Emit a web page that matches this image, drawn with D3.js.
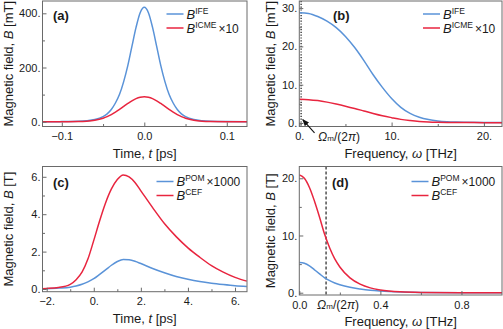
<!DOCTYPE html>
<html><head><meta charset="utf-8">
<script src="https://cdn.jsdelivr.net/npm/d3@7"></script>
<style>
body{margin:0;background:#fff;}
svg{display:block;font-family:"Liberation Sans",Arial,Helvetica,sans-serif;}
</style></head><body>
<svg id="chart" width="503" height="329"></svg>
<script>
// ---------- data ----------
// (a) time domain, t in ps, B in mT
const tA     = [-0.125,-0.1,-0.08,-0.07,-0.06,-0.05,-0.045,-0.04,-0.035,-0.03,-0.025,-0.02,-0.015,-0.01,-0.005,0,0.005,0.01,0.015,0.02,0.025,0.03,0.035,0.04,0.045,0.05,0.06,0.07,0.08,0.1,0.125];
const ifeA   = [0.1,0.3,1.3,3.2,7.9,19,29,45,69,101,148,207,278,348,402,422,402,348,278,207,148,101,69,45,29,19,7.9,3.2,1.3,0.3,0.1];
const icmeA  = [0,0.02,0.6,2.0,5.5,13,18.9,26.4,35.3,45.5,56.5,67.3,77.2,85.1,90.2,92,90.2,85.1,77.2,67.3,56.5,45.5,35.3,26.4,18.9,13,5.5,2.0,0.6,0.02,0];
// (b) frequency domain, omega in THz, B in mT
const wB     = [0,1,2,3,4,5,6,7,8,9,10,11,12,13,14,15,16,17,18,20,22];
const ifeB   = [28.8,28.6,27.8,26.6,24.9,22.6,19.7,16.3,12.6,9.3,6.4,4.1,2.5,1.5,0.9,0.55,0.35,0.25,0.2,0.15,0.12];
const icmeB  = [6.2,6.1,5.85,5.45,4.95,4.4,3.8,3.15,2.5,1.9,1.4,0.95,0.65,0.42,0.28,0.2,0.15,0.13,0.12,0.1,0.1];
// (c) time domain, t in ps, B in T
const tC     = [-2.2,-2,-1.5,-1,-0.75,-0.5,-0.25,0,0.25,0.5,0.75,1,1.25,1.5,1.75,2,2.5,3,3.5,4,4.5,5,5.5,6,6.5];
const pomC   = [0.02,0.02,0.05,0.1,0.16,0.25,0.38,0.55,0.78,1.02,1.27,1.47,1.58,1.56,1.48,1.36,1.1,0.87,0.67,0.52,0.4,0.31,0.24,0.18,0.14];
const cefC   = [0.02,0.03,0.08,0.25,0.5,0.9,1.6,2.6,3.65,4.6,5.35,5.85,6.1,6.0,5.7,5.25,4.35,3.5,2.8,2.2,1.7,1.25,0.9,0.62,0.42];
// (d) frequency domain, omega in THz, B in T
const wD     = [0,0.025,0.05,0.075,0.1,0.125,0.15,0.175,0.2,0.25,0.3,0.35,0.4,0.5,0.6,0.8,1.0];
const pomD   = [5.3,5.15,4.7,4.0,3.3,2.6,2.1,1.7,1.4,0.95,0.65,0.42,0.28,0.12,0.05,0.01,0];
const cefD   = [20.6,20.0,18.4,16.0,13.2,10.2,7.8,5.9,4.5,2.6,1.5,0.85,0.48,0.15,0.05,0.01,0];
// marker frequency Omega_m/(2 pi) in THz
const omegaM = 0.132;

// tick values and labels
const xTicksA = [-0.1,0,0.1],   xLabelsA = ["\u22120.1","0.0","0.1"], xMinorA = [-0.05,0.05];
const yTicksA = [0,200,400],    yLabelsA = ["0.","200.","400."],       yMinorA = [100,300];
const xTicksB = [0,10,20],      xLabelsB = ["0.","10.","20."],         xMinorB = [5,15];
const yTicksB = [0,10,20,30],   yLabelsB = ["0.","10.","20.","30."],   yMinorB = [5,15,25];
const xTicksC = [-2,0,2,4,6],   xLabelsC = ["\u22122.","0.","2.","4.","6."], xMinorC = [-1,1,3,5];
const yTicksC = [0,2,4,6],      yLabelsC = ["0.","2.","4.","6."],      yMinorC = [1,3,5];
const xTicksD = [0,0.4,0.8],    xLabelsD = ["0.0","0.4","0.8"],        xMinorD = [0.2,0.6];
const yTicksD = [0,10,20],      yLabelsD = ["0.","10.","20."],         yMinorD = [5,15];

const panelLetters = ["(a)","(b)","(c)","(d)"];
const xTitles = ["Time, ", "Frequency, ", "Time, ", "Frequency, "];
const xSyms   = ["t","\u03C9","t","\u03C9"];
const xUnits  = [" [ps]"," [THz]"," [ps]"," [THz]"];
const yUnits  = [" [mT]"," [mT]"," [T]"," [T]"];
const legSupTop = ["IFE","IFE","POM","POM"];
const legSufTop = [""," ","\u00D71000","\u00D71000"];
const legSupBot = ["ICME","ICME","CEF","CEF"];
const legSufBot = ["\u00D710","\u00D710","",""];

// ---------- styles ----------
const BLUE = "#5a93d8", RED = "#e8253f", FRAME = "#6a6a6a", TXT = "#1a1a1a";

const panels = [
  {x:[42.5,247], y:[126.5,1], xd:[-0.1234,0.1245], yd:[-17.7,445.4],
   xs:tA, s1:ifeA, s2:icmeA, c1:BLUE, c2:RED,
   xt:xTicksA, xl:xLabelsA, xm:xMinorA, yt:yTicksA, yl:yLabelsA, ym:yMinorA,
   letter:[53,19.5], leg:[166.5,14], ytx:13, marker:null},
  {x:[299.3,502], y:[126.5,1], xd:[0,21.96], yd:[-0.91,31.85],
   xs:wB, s1:ifeB, s2:icmeB, c1:BLUE, c2:RED,
   xt:xTicksB, xl:xLabelsB, xm:xMinorB, yt:yTicksB, yl:yLabelsB, ym:yMinorB,
   letter:[333,19.5], leg:[423,14], ytx:274.5, marker:"dot"},
  {x:[42.5,247], y:[291.7,166.5], xd:[-2.178,6.509], yd:[-0.144,6.55],
   xs:tC, s1:pomC, s2:cefC, c1:BLUE, c2:RED,
   xt:xTicksC, xl:xLabelsC, xm:xMinorC, yt:yTicksC, yl:yLabelsC, ym:yMinorC,
   letter:[53,187], leg:[156.5,181.5], ytx:13, marker:null},
  {x:[299.3,502], y:[295,166.5], xd:[0,1], yd:[-0.40,22.06],
   xs:wD, s1:pomD, s2:cefD, c1:BLUE, c2:RED,
   xt:xTicksD, xl:xLabelsD, xm:xMinorD, yt:yTicksD, yl:yLabelsD, ym:yMinorD,
   letter:[332,187], leg:[411.5,181.5], ytx:274.5, marker:"dash"}
];

const svg = d3.select("#chart");
const defs = svg.append("defs");
defs.append("marker").attr("id","arrow").attr("viewBox","0 0 10 10")
  .attr("refX",9).attr("refY",5).attr("markerWidth",7).attr("markerHeight",7)
  .attr("markerUnits","userSpaceOnUse").attr("orient","auto")
  .append("path").attr("d","M0,1 L10,5 L0,9 Z").attr("fill","#111");

panels.forEach((p,i)=>{
  const x = d3.scaleLinear().domain(p.xd).range(p.x);
  const y = d3.scaleLinear().domain(p.yd).range(p.y);
  const g = svg.append("g");
  const cid = "clip"+i;
  defs.append("clipPath").attr("id",cid).append("rect")
    .attr("x",p.x[0]).attr("y",p.y[1]).attr("width",p.x[1]-p.x[0]).attr("height",p.y[0]-p.y[1]);

  // marker line
  if(p.marker){
    g.append("line").attr("x1",x(omegaM)+(p.marker==="dot"?0.6:0)).attr("x2",x(omegaM)+(p.marker==="dot"?0.6:0))
      .attr("y1",p.y[1]).attr("y2",p.y[0])
      .attr("stroke","#111").attr("stroke-width",p.marker==="dot"?1.2:1.1)
      .attr("stroke-dasharray",p.marker==="dot"?"1.2,1.6":"3,2");
  }

  // curves
  const line = d3.line().x(d=>x(d[0])).y(d=>y(d[1])).curve(d3.curveMonotoneX);
  const cg = g.append("g").attr("clip-path",`url(#${cid})`);
  cg.append("path").datum(p.xs.map((v,k)=>[v,p.s1[k]])).attr("d",line)
    .attr("fill","none").attr("stroke",p.c1).attr("stroke-width",1.5);
  cg.append("path").datum(p.xs.map((v,k)=>[v,p.s2[k]])).attr("d",line)
    .attr("fill","none").attr("stroke",p.c2).attr("stroke-width",1.5);

  // frame
  g.append("rect").attr("x",p.x[0]).attr("y",p.y[1]).attr("width",p.x[1]-p.x[0]).attr("height",p.y[0]-p.y[1])
    .attr("fill","none").attr("stroke",FRAME).attr("stroke-width",1);

  // axes
  const xAx = d3.axisBottom(x).tickValues(p.xt).tickFormat((d,k)=>p.xl[k]).tickSize(-4).tickPadding(6);
  const xAxM = d3.axisBottom(x).tickValues(p.xm).tickFormat("").tickSize(-2.5);
  const yAx = d3.axisLeft(y).tickValues(p.yt).tickFormat((d,k)=>p.yl[k]).tickSize(-4).tickPadding(2);
  const yAxM = d3.axisLeft(y).tickValues(p.ym).tickFormat("").tickSize(-2.5);
  [[xAx,"b"],[xAxM,"b"],[yAx,"l"],[yAxM,"l"]].forEach(([ax,s])=>{
    const a = g.append("g").attr("transform", s==="b" ? `translate(0,${p.y[0]})` : `translate(${p.x[0]},0)`).call(ax);
    a.select(".domain").remove();
    a.selectAll("line").attr("stroke",FRAME);
    a.selectAll("text").attr("fill",TXT).style("font-size","11px").style("font-family","'Liberation Sans',Arial,sans-serif");
  });

  // x title
  const xt = g.append("text").attr("x",(p.x[0]+p.x[1])/2 + (i%2? 0 : 0)).attr("y",p.y[0]+31)
    .attr("text-anchor","middle").attr("fill",TXT).style("font-size","13px");
  xt.append("tspan").text(xTitles[i]);
  xt.append("tspan").attr("font-style","italic").text(xSyms[i]);
  xt.append("tspan").text(xUnits[i]);

  // y title
  const ymid = (p.y[0]+p.y[1])/2;
  const yt = g.append("text").attr("transform",`translate(${p.ytx},${ymid}) rotate(-90)`)
    .attr("text-anchor","middle").attr("fill",TXT).style("font-size","13px");
  yt.append("tspan").text("Magnetic field, ");
  yt.append("tspan").attr("font-style","italic").text("B");
  yt.append("tspan").text(yUnits[i]);

  // panel letter
  g.append("text").attr("x",p.letter[0]).attr("y",p.letter[1]).attr("fill",TXT)
    .style("font-size","13px").style("font-weight","bold").text(panelLetters[i]);

  // legend
  const rows = [[p.c1,legSupTop[i],legSufTop[i]],[p.c2,legSupBot[i],legSufBot[i]]];
  rows.forEach((r,k)=>{
    const ly = p.leg[1] + k*14;
    g.append("line").attr("x1",p.leg[0]).attr("x2",p.leg[0]+17).attr("y1",ly).attr("y2",ly)
      .attr("stroke",r[0]).attr("stroke-width",1.5);
    const t = g.append("text").attr("x",p.leg[0]+20).attr("y",ly+4.5).attr("fill",TXT).style("font-size","13px");
    t.append("tspan").attr("font-style","italic").text("B");
    t.append("tspan").attr("dy",-5).style("font-size","8.5px").text(r[1]);
    if(r[2].trim()){
      t.append("tspan").attr("dy",5).attr("dx",2).style("font-size","12px").text(r[2]);
    }
  });

  // Omega label
  if(p.marker){
    const lx = i===1 ? 339 : 338;
    const ly = p.y[0] + 14;
    const ot = g.append("text").attr("x",lx).attr("y",ly).attr("text-anchor","middle").attr("fill",TXT).style("font-size","12px");
    ot.append("tspan").attr("font-style","italic").text("\u03A9");
    ot.append("tspan").style("font-size","8px").text("m");
    ot.append("tspan").text("/(2");
    ot.append("tspan").attr("font-style","italic").text("\u03C0");
    ot.append("tspan").text(")");
    if(i===1){
      g.append("line").attr("x1",x(omegaM)+14).attr("y1",y(-0.2)+9)
        .attr("x2",x(omegaM)+2.2).attr("y2",y(0.9))
        .attr("stroke","#111").attr("stroke-width",1.1).attr("marker-end","url(#arrow)");
    }
  }
});
</script>
</body></html>
